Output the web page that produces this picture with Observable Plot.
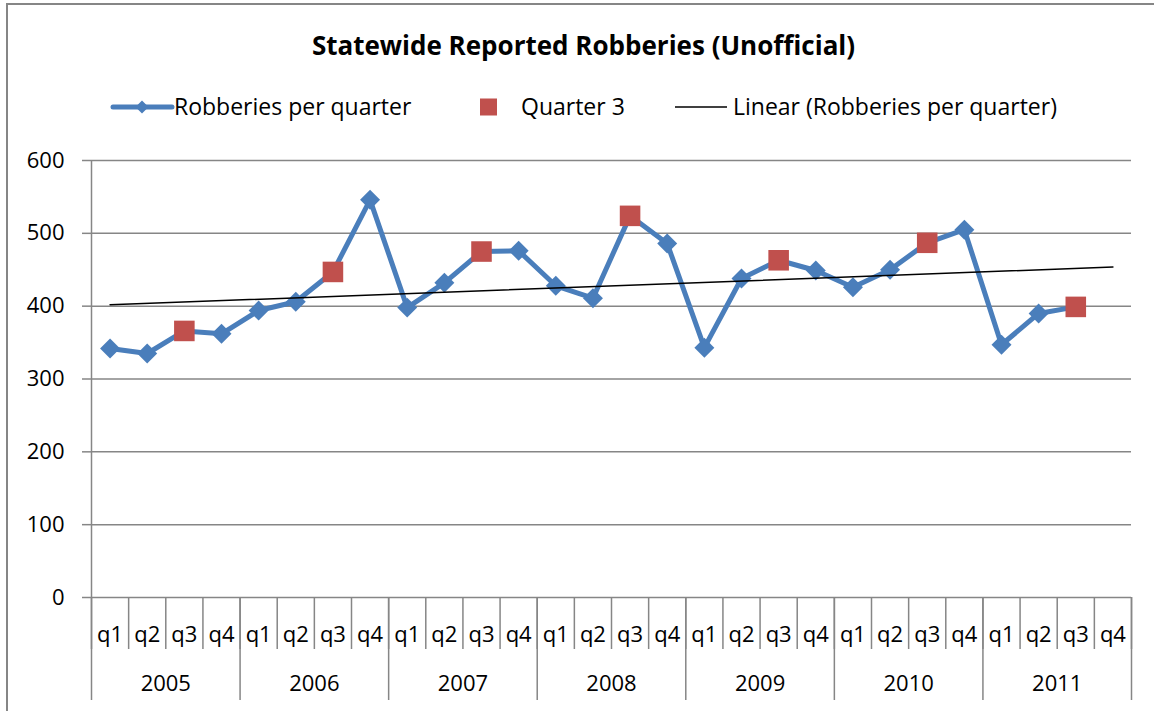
<!DOCTYPE html>
<html>
<head>
<meta charset="utf-8">
<script src="https://cdn.jsdelivr.net/npm/d3@7"></script>
<script src="https://cdn.jsdelivr.net/npm/@observablehq/plot@0.6"></script>
<style>
  body { margin: 0; background: #fff; }
  #wrap { position: relative; width: 1154px; height: 711px; overflow: hidden; background: #fff; font-family: "Open Sans", Lato, sans-serif; color: #000; }
  #frame { position: absolute; left: 6px; top: 3px; width: 1300px; height: 900px; border-left: 2px solid #868686; border-top: 2px solid #868686; z-index: 5; pointer-events: none; }
  #title { position: absolute; left: 0; top: 32px; width: 1167px; text-align: center; font-weight: bold; font-size: 26px; line-height: 1; white-space: nowrap; }
  .legtxt { position: absolute; top: 95px; font-size: 23px; line-height: 1; white-space: nowrap; }
  #legsw { position: absolute; left: 0; top: 0; }
  #chart { position: absolute; left: 0; top: 130px; }
</style>
</head>
<body>
<div id="wrap">
  <div id="title"></div>
  <svg id="legsw" width="1154" height="130"></svg>
  <div class="legtxt" id="leg1" style="left:174px"></div>
  <div class="legtxt" id="leg2" style="left:521px"></div>
  <div class="legtxt" id="leg3" style="left:733px"></div>
  <div id="chart"></div>
  <div id="frame"></div>
</div>
<script>
// ---- data ----
const titleText = "Statewide Reported Robberies (Unofficial)";
const seriesNames = ["Robberies per quarter", "Quarter 3", "Linear (Robberies per quarter)"];
const years = ["2005", "2006", "2007", "2008", "2009", "2010", "2011"];
const quarters = ["q1", "q2", "q3", "q4"];
const robberies = [
  342, 335, 366, 362,
  394, 406, 447, 546,
  398, 432, 475, 476,
  428, 411, 524, 486,
  343, 438, 463, 449,
  426, 450, 487, 505,
  347, 390, 399, null
];
const yTicks = [0, 100, 200, 300, 400, 500, 600];

// ---- colours ----
const blue = "#4A7EBB";
const red = "#C0504D";
const grid = "#868686";

// ---- derived table ----
const data = robberies.map((v, i) => ({
  x: i + 0.5,
  v,
  q: quarters[i % 4],
  year: years[Math.floor(i / 4)]
}));
const pts = data.filter(d => d.v != null);
const q3pts = pts.filter(d => d.q === "q3");
const otherPts = pts.filter(d => d.q !== "q3");

// linear trend (least squares), drawn across all categories like Excel
const mx = d3.mean(pts, d => d.x), my = d3.mean(pts, d => d.v);
const slope = d3.sum(pts, d => (d.x - mx) * (d.v - my)) / d3.sum(pts, d => (d.x - mx) ** 2);
const trend = [data[0], data[data.length - 1]].map(d => ({x: d.x, v: my + slope * (d.x - mx)}));

// ---- title & legend ----
document.getElementById("title").textContent = titleText;
document.getElementById("leg1").textContent = seriesNames[0];
document.getElementById("leg2").textContent = seriesNames[1];
document.getElementById("leg3").textContent = seriesNames[2];
const sw = d3.select("#legsw");
sw.append("line").attr("x1", 113).attr("x2", 172).attr("y1", 107).attr("y2", 107)
  .attr("stroke", blue).attr("stroke-width", 5).attr("stroke-linecap", "round");
sw.append("path").attr("d", "M142,100.5L148.5,107L142,113.5L135.5,107Z").attr("fill", blue);
sw.append("rect").attr("x", 480).attr("y", 98.5).attr("width", 17).attr("height", 17).attr("fill", red);
sw.append("line").attr("x1", 675).attr("x2", 727).attr("y1", 107).attr("y2", 107)
  .attr("stroke", "#000").attr("stroke-width", 1.5);

// ---- chart ----
const chart = Plot.plot({
  width: 1154,
  height: 581,
  marginTop: 30,
  marginBottom: 114,
  marginLeft: 91,
  marginRight: 23,
  x: {type: "linear", domain: [0, 28]},
  y: {domain: [0, 600]},
  style: {fontFamily: "'Open Sans', Lato, sans-serif", color: "#000", background: "transparent", overflow: "visible"},
  marks: [
    Plot.ruleY(yTicks, {stroke: grid, strokeWidth: 1.5}),
    Plot.ruleX([0], {y1: 0, y2: 600, stroke: grid, strokeWidth: 1.5}),
    Plot.axisY({ticks: yTicks, tickSize: 9, tickPadding: 18, fontSize: 22, stroke: grid, strokeWidth: 1.5, fill: "#000", label: null}),
    // quarter separators
    Plot.axisX({ticks: d3.range(0, 29), tickSize: 52, tickFormat: () => "", stroke: grid, strokeWidth: 1.5, label: null}),
    // year separators
    Plot.axisX({ticks: d3.range(0, 29, 4), tickSize: 103, tickFormat: () => "", stroke: grid, strokeWidth: 1.5, label: null}),
    // quarter labels
    Plot.axisX({ticks: data.map(d => d.x), tickSize: 0, tickPadding: 29, fontSize: 22, fill: "#000",
      tickFormat: d => quarters[Math.floor(d) % 4], label: null}),
    // year labels
    Plot.axisX({ticks: years.map((y, k) => k * 4 + 2), tickSize: 0, tickPadding: 78, fontSize: 22, fill: "#000",
      tickFormat: d => years[Math.round((d - 2) / 4)], label: null}),
    Plot.line(data, {x: "x", y: "v", stroke: blue, strokeWidth: 5, strokeLinejoin: "round"}),
    Plot.dot(otherPts, {x: "x", y: "v", symbol: "diamond2", r: 9, fill: blue, stroke: null}),
    Plot.line(trend, {x: "x", y: "v", stroke: "#000", strokeWidth: 1.5}),
    Plot.dot(q3pts, {x: "x", y: "v", symbol: "square", r: 11.6, fill: red, stroke: null})
  ]
});
document.getElementById("chart").appendChild(chart);
</script>
</body>
</html>
